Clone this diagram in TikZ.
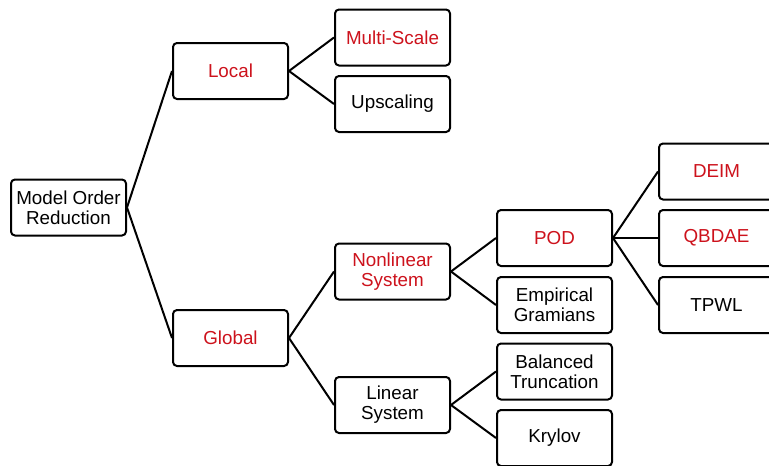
\documentclass[tikz,border=0pt]{standalone}
\usepackage{fontspec}
\setmainfont{Liberation Sans}
\definecolor{hl}{RGB}{205,18,28}
\tikzset{
  box/.style={draw=black, line width=2pt, rounded corners=4pt, fill=white,
    minimum width=115pt, minimum height=56pt, inner sep=0pt, align=center,
    font=\fontsize{18.8}{20}\selectfont},
  red/.style={text=hl},
  link/.style={line width=2pt, draw=black}
}
\begin{document}
\begin{tikzpicture}[x=1pt, y=-1pt]
  \useasboundingbox (0,0) rectangle (769,466);
  % root
  \node[box] (mor) at (68.5,207.5) {Model Order\\Reduction};
  % first level
  \node[box, red] (local)  at (230.5,71)  {Local};
  \node[box, red] (global) at (230.5,338) {Global};
  % second level
  \node[box, red] (ms)  at (392.5,37.5)  {Multi-Scale};
  \node[box]      (up)  at (392.5,104)   {Upscaling};
  \node[box, red] (nl)  at (392.5,271.5) {Nonlinear\\System};
  \node[box]      (lin) at (392.5,405)   {Linear\\System};
  % third level
  \node[box, red] (pod) at (554.5,238)   {POD};
  \node[box]      (eg)  at (554.5,305)   {Empirical\\Gramians};
  \node[box]      (bt)  at (554.5,371.5) {Balanced\\Truncation};
  \node[box]      (kry) at (554.5,438)   {Krylov};
  % fourth level
  \node[box, red] (deim) at (716.5,171.5) {DEIM};
  \node[box, red] (qb)   at (716.5,238)   {QBDAE};
  \node[box]      (tpwl) at (716.5,305)   {TPWL};
  % connectors
  \draw[link] (mor.east) -- (local.west);
  \draw[link] (mor.east) -- (global.west);
  \draw[link] (local.east) -- (ms.west);
  \draw[link] (local.east) -- (up.west);
  \draw[link] (global.east) -- (nl.west);
  \draw[link] (global.east) -- (lin.west);
  \draw[link] (nl.east) -- (pod.west);
  \draw[link] (nl.east) -- (eg.west);
  \draw[link] (lin.east) -- (bt.west);
  \draw[link] (lin.east) -- (kry.west);
  \draw[link] (pod.east) -- (deim.west);
  \draw[link] (pod.east) -- (qb.west);
  \draw[link] (pod.east) -- (tpwl.west);
\end{tikzpicture}
\end{document}
